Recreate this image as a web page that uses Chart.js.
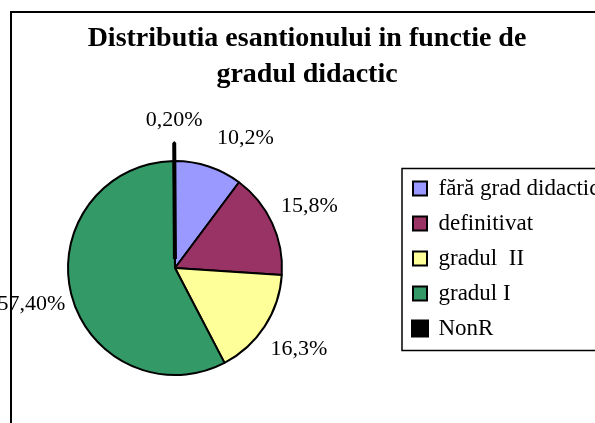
<!DOCTYPE html>
<html>
<head>
<meta charset="utf-8">
<script src="https://cdn.jsdelivr.net/npm/chart.js@4"></script>
<style>
    html, body { margin: 0; padding: 0; background: #fff; overflow: hidden; width: 595px; height: 423px; }
    #wrap { position: absolute; left: 0; top: 0; width: 614px; height: 470px; }
</style>
</head>
<body>
<div id="wrap"><canvas id="pieChart"></canvas></div>
<script>
/**
 * DATA
 */
const titleLines = ['Distributia esantionului in functie de', 'gradul didactic'];
const categories = ['fără grad didactic', 'definitivat', 'gradul  II', 'gradul I', 'NonR'];
const shares = [10.2, 15.8, 16.3, 57.4, 0.2];
const shareLabels = ['10,2%', '15,8%', '16,3%', '57,40%', '0,20%'];

const SERIF = '"Liberation Serif", "Times New Roman", serif';

/**
 * PLUGINS
 */
// pin the pie and the legend where the original sits
const placeBoxes = {
    id: 'placeBoxes',
    afterLayout(chart) {
        const cx = 175, cy = 268, half = 150;
        chart.chartArea = { left: cx - half, right: cx + half, top: cy - half, bottom: cy + half, width: half * 2, height: half * 2 };
        const lg = chart.legend;
        lg.left = 401; lg.right = lg.left + lg.width;
        lg.top = 165; lg.bottom = lg.top + 300;
    }
};

// outer frame + legend frame
const frames = {
    id: 'frames',
    beforeDraw(chart) {
        const ctx = chart.ctx;
        ctx.save();
        ctx.fillStyle = '#fff';
        ctx.fillRect(0, 0, chart.width, chart.height);
        ctx.strokeStyle = '#000';
        ctx.lineWidth = 2;
        ctx.strokeRect(11, 12, 700, 600);
        ctx.restore();
    },
    afterDraw(chart) {
        const ctx = chart.ctx;
        ctx.save();
        ctx.strokeStyle = '#000';
        ctx.lineWidth = 1.5;
        ctx.strokeRect(402, 168.5, 400, 182);
        ctx.restore();
    }
};

// percentage labels outside each slice, nudged apart when they collide
const sliceLabels = {
    id: 'sliceLabels',
    afterDatasetsDraw(chart) {
        const ctx = chart.ctx;
        const arcs = chart.getDatasetMeta(0).data;
        ctx.save();
        ctx.font = '22px ' + SERIF;
        ctx.fillStyle = '#000';
        ctx.textAlign = 'center';
        ctx.textBaseline = 'middle';
        const placed = [];
        arcs.map((a, i) => i).reverse().forEach(i => {
            const a = arcs[i];
            let ang = (a.startAngle + a.endAngle) / 2;
            const dist = a.outerRadius + 41;
            const w = ctx.measureText(shareLabels[i]).width, h = 22;
            let x, y;
            for (let n = 0; n < 90; n++) {
                x = a.x + Math.cos(ang) * dist;
                y = a.y + Math.sin(ang) * dist;
                const hit = placed.find(p => Math.abs(p.x - x) < (p.w + w) / 2 + 14 && Math.abs(p.y - y) < (p.h + h) / 2);
                if (!hit) break;
                const d = Math.atan2(Math.sin(ang - hit.ang), Math.cos(ang - hit.ang));
                ang += (d >= 0 ? 1 : -1) * Math.PI / 180;
            }
            placed.push({ x, y, w, h, ang });
            ctx.fillText(shareLabels[i], x, y);
        });
        ctx.restore();
    }
};

/**
 * CHART
 */
new Chart(document.getElementById('pieChart'), {
    type: 'pie',
    data: {
        labels: categories,
        datasets: [{
            data: shares,
            backgroundColor: ['#9999ff', '#993366', '#ffff99', '#339966', '#000000'],
            borderColor: '#000',
            borderWidth: [2, 2, 2, 2, 4],
            offset: [0, 0, 0, 0, 36],
            clip: false
        }]
    },
    options: {
        responsive: true,
        maintainAspectRatio: false,
        animation: false,
        events: [],
        radius: 107,
        layout: { padding: 0 },
        plugins: {
            title: {
                display: true,
                text: titleLines,
                color: '#000',
                font: { family: SERIF, size: 28, weight: 'bold', lineHeight: 1.286 },
                padding: { top: 21, bottom: 0 }
            },
            legend: {
                position: 'right',
                align: 'start',
                labels: {
                    color: '#000',
                    font: { family: SERIF, size: 23 },
                    boxWidth: 14,
                    boxHeight: 14,
                    padding: 12
                }
            },
            tooltip: { enabled: false }
        }
    },
    plugins: [placeBoxes, frames, sliceLabels]
});
</script>
</body>
</html>
